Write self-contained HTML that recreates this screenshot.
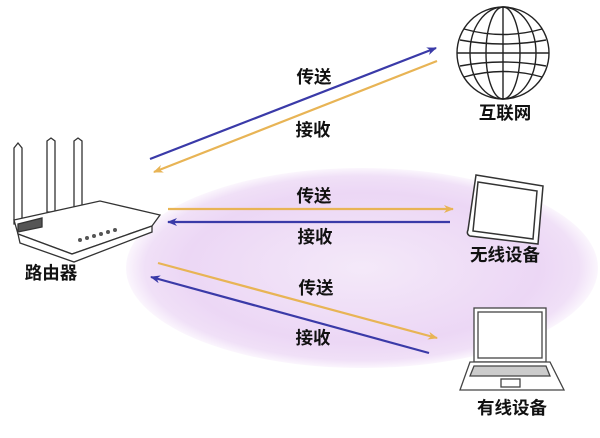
<!DOCTYPE html><html><head><meta charset="utf-8"><style>
body{margin:0;width:600px;height:433px;background:#fff;overflow:hidden}
svg text{font-family:"Liberation Sans","Noto Sans CJK SC",sans-serif;font-weight:bold;font-size:17.5px;fill:#111;text-anchor:middle}
</style></head><body>
<svg width="600" height="433" viewBox="0 0 600 433">
<defs>
<radialGradient id="g" cx="0.5" cy="0.5" r="0.5">
<stop offset="0" stop-color="#f4e9f9"/><stop offset="0.75" stop-color="#ecd7f5"/><stop offset="0.92" stop-color="#f0e0f7"/><stop offset="1" stop-color="#fbf6fd"/></radialGradient>
<marker id="ab" markerWidth="10" markerHeight="8" refX="9" refY="4" orient="auto" markerUnits="userSpaceOnUse"><path d="M0,0 L10,4 L0,8 L3,4z" fill="#3a3aa8"/></marker>
<marker id="ao" markerWidth="10" markerHeight="8" refX="9" refY="4" orient="auto" markerUnits="userSpaceOnUse"><path d="M0,0 L10,4 L0,8 L3,4z" fill="#e8b455"/></marker>
</defs>
<ellipse cx="362" cy="268" rx="236" ry="100" fill="url(#g)"/>
<g stroke-width="2.2" fill="none">
<line x1="150" y1="159" x2="436" y2="48" stroke="#3a3aa8" marker-end="url(#ab)"/>
<line x1="437" y1="61" x2="154" y2="172" stroke="#e8b455" marker-end="url(#ao)"/>
<line x1="168" y1="209" x2="453" y2="209" stroke="#e8b455" marker-end="url(#ao)"/>
<line x1="450" y1="222" x2="168" y2="222" stroke="#3a3aa8" marker-end="url(#ab)"/>
<line x1="158" y1="263" x2="437" y2="338" stroke="#e8b455" marker-end="url(#ao)"/>
<line x1="429" y1="353" x2="151" y2="277" stroke="#3a3aa8" marker-end="url(#ab)"/>
</g>
<text x="314" y="83">传送</text><text x="313" y="136">接收</text>
<text x="314" y="202">传送</text><text x="315" y="243">接收</text>
<text x="316" y="294">传送</text><text x="313" y="344">接收</text>
<text x="505" y="119">互联网</text><text x="505" y="261">无线设备</text>
<text x="51" y="279">路由器</text><text x="512" y="414">有线设备</text>
<g stroke="#222" stroke-width="1.4" fill="none">
<circle cx="503" cy="53" r="46"/>
<ellipse cx="503" cy="53" rx="33" ry="46"/><ellipse cx="503" cy="53" rx="17" ry="46"/>
<line x1="503" y1="7" x2="503" y2="99"/>
<line x1="457" y1="53" x2="549" y2="53"/>
<path d="M464,29 Q503,40 542,29 M460,40 Q503,48 546,40 M460,66 Q503,58 546,66 M464,77 Q503,66 542,77"/>
</g>
<g stroke="#333" stroke-width="1.3" fill="#fff">
<path d="M14,148 L18,143 L22,148 L22,224 L14,224z"/>
<path d="M47,141 L51,138 L55,141 L55,212 L47,212z"/>
<path d="M74,141 L78,138 L82,141 L82,207 L74,207z"/>
<path d="M14,220 L100,201 L160,215 L152,226 L72,254 L18,234z"/>
<path d="M18,234 L72,254 L152,226 L152,232 L74,262 L20,243z"/>
<path d="M18,224 L42,218 L42,227 L18,232z" fill="#555"/>
</g>
<g fill="#555"><circle cx="80" cy="240" r="2"/><circle cx="87" cy="238" r="2"/><circle cx="94" cy="236" r="2"/><circle cx="101" cy="234" r="2"/><circle cx="108" cy="232" r="2"/><circle cx="115" cy="230" r="2"/></g>
<g stroke="#333" stroke-width="1.5" fill="#fff">
<path d="M476,175 L543,186 L538,244 L470,236 Q466,234 468,230z" />
<path d="M478,182 L537,191 L533,239 L473,231z"/>
</g>
<g stroke="#444" stroke-width="1.3" fill="#fff">
<rect x="474" y="308" width="72" height="54"/>
<rect x="478" y="312" width="64" height="46"/>
<path d="M470,362 L550,362 L564,390 L460,390z"/>
<path d="M474,366 L546,366 L550,376 L470,376z" fill="#ccc"/>
<rect x="501" y="379" width="19" height="8"/>
</g>
</svg>
</body></html>
